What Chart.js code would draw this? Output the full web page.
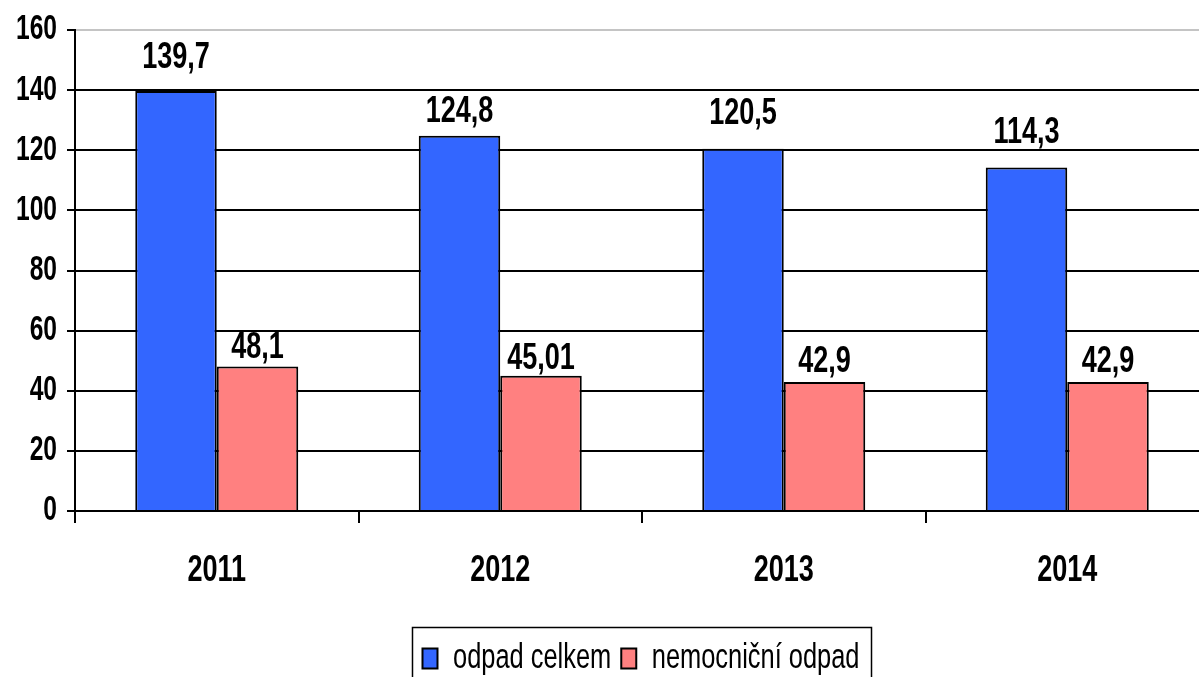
<!DOCTYPE html>
<html>
<head>
<meta charset="utf-8">
<script src="https://cdn.jsdelivr.net/npm/chart.js@4"></script>
<style>
  html, body { margin: 0; padding: 0; background: #fff; overflow: hidden; }
  #wrap { width: 1282px; height: 700px; }
</style>
</head>
<body>
<div id="wrap"><canvas id="wasteChart" width="1282" height="700"></canvas></div>
<script>
const years = ["2011", "2012", "2013", "2014"];
const odpadCelkem = [139.7, 124.8, 120.5, 114.3];
const nemocnicniOdpad = [48.1, 45.01, 42.9, 42.9];
const yTicks = [0, 20, 40, 60, 80, 100, 120, 140, 160];

const FONT = "'Liberation Sans', Arial, sans-serif";

/* labels sit at hand-placed heights above the bars, like the original */
const labelGaps = [[23, 14, 25, 24], [8, 7, 10, 10]];

// no Arial Narrow here: squeeze Liberation Sans the same way (82% wide, a bit tall)
const SX = 0.82, SY = 1.14;
function condense(ctx) {
  const fill = ctx.fillText.bind(ctx);
  const measure = ctx.measureText.bind(ctx);
  ctx.fillText = function (text, x, y) {
    ctx.save();
    ctx.translate(x, y);
    ctx.scale(SX, SY);
    fill(text, 0, 0);
    ctx.restore();
  };
  ctx.measureText = function (text) {
    const m = measure(text);
    return {
      width: m.width * SX,
      actualBoundingBoxAscent: m.actualBoundingBoxAscent * SY,
      actualBoundingBoxDescent: m.actualBoundingBoxDescent * SY,
      actualBoundingBoxLeft: m.actualBoundingBoxLeft * SX,
      actualBoundingBoxRight: m.actualBoundingBoxRight * SX
    };
  };
}

const valueLabels = {
  id: "valueLabels",
  afterDatasetsDraw(chart) {
    const ctx = chart.ctx;
    ctx.save();
    ctx.fillStyle = "#000";
    ctx.font = "bold 33px " + FONT;
    ctx.textAlign = "center";
    ctx.textBaseline = "alphabetic";
    chart.data.datasets.forEach((ds, i) => {
      chart.getDatasetMeta(i).data.forEach((bar, j) => {
        const txt = String(ds.data[j]).replace(".", ",");
        ctx.fillText(txt, bar.x, bar.y - labelGaps[i][j]);
      });
    });
    ctx.restore();
  }
};

/* frame round the legend */
const legendFrame = {
  id: "legendFrame",
  afterDraw(chart) {
    const boxes = chart.legend.legendHitBoxes;
    if (!boxes || !boxes.length) return;
    const left = Math.min(...boxes.map(b => b.left));
    const right = Math.max(...boxes.map(b => b.left + b.width));
    const top = Math.min(...boxes.map(b => b.top));
    const bottom = Math.max(...boxes.map(b => b.top + b.height));
    const ctx = chart.ctx;
    ctx.save();
    ctx.strokeStyle = "#000";
    ctx.lineWidth = 1.5;
    ctx.strokeRect(left - 10, top - 15.5, right - left + 22, bottom - top + 31);
    ctx.restore();
  }
};

const ctx = document.getElementById("wasteChart").getContext("2d");
condense(ctx);

new Chart(ctx, {
  type: "bar",
  data: {
    labels: years,
    datasets: [{
      label: "odpad celkem",
      data: odpadCelkem,
      backgroundColor: "#3366FF",
      borderColor: "#000",
      borderWidth: 2,
      borderSkipped: "bottom",
      yAxisID: "y"
    }, {
      label: "nemocniční odpad",
      data: nemocnicniOdpad,
      backgroundColor: "#FF8080",
      borderColor: "#000",
      borderWidth: 2,
      borderSkipped: "bottom",
      yAxisID: "y"
    }]
  },
  options: {
    responsive: false,
    animation: false,
    categoryPercentage: 0.575,
    barPercentage: 1.0,
    layout: { padding: { top: 30, right: 0, bottom: 16, left: 0 } },
    plugins: {
      tooltip: { enabled: false },
      legend: {
        position: "bottom",
        labels: {
          color: "#000",
          font: { family: FONT, size: 31 },
          boxWidth: 15,
          boxHeight: 20,
          padding: 10
        }
      }
    },
    scales: {
      x: {
        grid: {
          offset: true,
          drawOnChartArea: false,
          drawTicks: true,
          tickLength: 12,
          color: "#000",
          lineWidth: 2
        },
        border: { display: true, color: "#000", width: 2 },
        ticks: {
          color: "#000",
          padding: 28,
          font: { family: FONT, size: 33, weight: "bold" }
        },
        afterFit(scale) { scale.height = 122; }
      },
      y: {
        min: yTicks[0],
        max: yTicks[yTicks.length - 1],
        afterBuildTicks(scale) { scale.ticks = yTicks.map(v => ({ value: v })); },
        grid: {
          color: c => c.tick && c.tick.value === 160 ? "#c4c4c4" : "#000",
          tickColor: "#000",
          lineWidth: 2,
          tickLength: 8
        },
        border: { display: true, color: "#000", width: 2 },
        ticks: {
          color: "#000",
          padding: 10,
          font: { family: FONT, size: 30, weight: "bold" }
        },
        afterFit(scale) { scale.width = 75; }
      },
      // empty strip on the right: the original plot runs past the picture edge
      yRight: {
        position: "right",
        min: 0,
        max: 160,
        grid: { display: false },
        border: { display: false },
        ticks: { display: false },
        afterFit(scale) { scale.width = 73; }
      }
    }
  },
  plugins: [valueLabels, legendFrame]
});
</script>
</body>
</html>
